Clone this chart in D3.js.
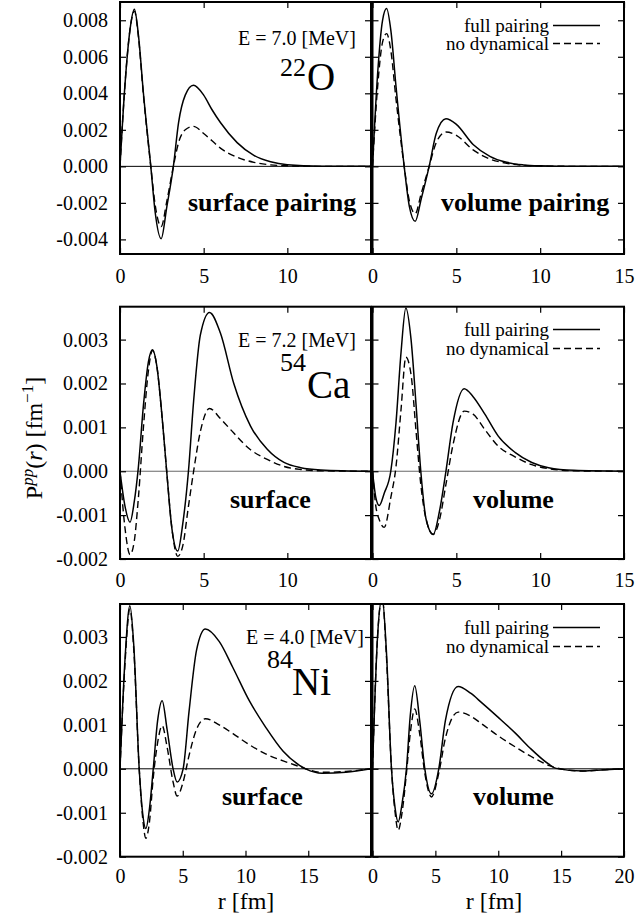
<!DOCTYPE html>
<html><head><meta charset="utf-8">
<script src="https://cdn.jsdelivr.net/npm/d3@7"></script>
<style>
body{margin:0;background:#fff}
svg{display:block}
text{font-family:"Liberation Serif","Tinos","Times New Roman","Nimbus Roman","DejaVu Serif","Noto Serif",serif;fill:#000}
</style>
</head><body>
<svg id="chart" width="636" height="920"></svg>
<script>
// ---------- data ----------
// 22O
const r_O_surf = [0,0.3,0.6,0.86,1.1,1.4,1.84,2.1,2.46,2.8,3.19,3.5,3.9,4.39,5,5.5,6,7,8,9,10,12,15];
const O_surf_full = [0,0.0045,0.0075,0.0086,0.0072,0.0040,0,-0.0025,-0.00396,-0.0022,0,0.0024,0.0039,0.00444,0.0039,0.0031,0.0024,0.0013,0.0006,0.00025,0.00009,0.00001,0];
const O_surf_nodyn = [0,0.0045,0.0075,0.0085,0.0071,0.0039,0,-0.0021,-0.0033,-0.0019,0,0.0013,0.0020,0.00219,0.0018,0.0014,0.0010,0.0005,0.00022,0.00008,0.00003,0,0];
const r_O_vol = [0,0.3,0.6,0.84,1.1,1.4,1.89,2.2,2.55,2.9,3.38,3.8,4.38,5,6,7,8,9,10,12,15];
const O_vol_full = [0,0.0050,0.0080,0.00864,0.0074,0.0044,0,-0.0022,-0.00301,-0.0018,0,0.0018,0.00261,0.0023,0.0012,0.00055,0.00022,0.00008,0.00003,0,0];
const O_vol_nodyn = [0,0.0043,0.0068,0.00727,0.0063,0.0037,0,-0.0019,-0.00259,-0.0015,0,0.0013,0.00188,0.0017,0.0009,0.0004,0.00017,0.00006,0.00002,0,0];
// 54Ca
const r_Ca_surf = [0,0.3,0.6,0.85,1.1,1.4,1.7,1.94,2.2,2.5,2.79,3.1,3.45,3.75,4.09,4.4,4.8,5.35,6,6.8,7.8,8.8,9.8,10.8,12,15];
const Ca_surf_full = [0,-0.0008,-0.00116,-0.0007,0.0001,0.0015,0.0025,0.00277,0.0024,0.0013,0,-0.0013,-0.00182,-0.0012,0,0.0016,0.0031,0.00362,0.00315,0.0020,0.00103,0.0005,0.0002,0.00008,0.00003,0];
const Ca_surf_nodyn = [0,-0.0013,-0.0019,-0.0016,-0.0006,0.0010,0.0023,0.00275,0.0024,0.0013,0,-0.0013,-0.00194,-0.0017,-0.0008,0,0.0009,0.00143,0.0012,0.00087,0.00049,0.00027,0.00011,0.00004,0.00001,0];
const r_Ca_vol = [0,0.2,0.4,0.7,1.09,1.4,1.7,1.99,2.3,2.6,2.88,3.2,3.62,4.0,4.38,4.8,5.47,6,6.7,7.5,8.5,9.5,10.5,12,15];
const Ca_vol_full = [0,-0.0006,-0.00078,-0.0005,0,0.0011,0.0027,0.00372,0.0030,0.0015,0,-0.0011,-0.00144,-0.0009,0,0.0011,0.00188,0.0017,0.0013,0.0008,0.00043,0.0002,0.00008,0.00002,0];
const Ca_vol_nodyn = [0,-0.0008,-0.0011,-0.00128,-0.0006,0.0001,0.0014,0.0026,0.0022,0.0009,-0.0003,-0.0011,-0.00144,-0.0011,-0.0003,0.0006,0.00137,0.0013,0.00095,0.00057,0.00033,0.00015,0.00006,0.00001,0];
// 84Ni
const r_Ni_surf = [0,0.4,0.79,1.1,1.53,1.8,2.06,2.35,2.65,3.0,3.36,3.75,4.23,4.55,5.03,5.5,6.1,6.8,7.9,9,10.3,11.6,13,14.3,14.8,16.1,18,20];
const Ni_surf_full = [0,0.0025,0.00371,0.0028,0,-0.001,-0.00136,-0.0009,0,0.0011,0.00155,0.0009,0,-0.0003,0,0.0013,0.0027,0.00318,0.0029,0.0023,0.00155,0.00095,0.0004,0.00008,0,-0.0001,-0.00008,0];
const Ni_surf_nodyn = [0,0.0024,0.00364,0.0027,0,-0.0011,-0.00158,-0.0012,-0.0002,0.0006,0.00098,0.0005,-0.0003,-0.00062,-0.0003,0.0003,0.0009,0.00114,0.001,0.0008,0.00055,0.00034,0.00018,0.00005,0,-0.00008,-0.00006,0];
const r_Ni_vol = [0,0.4,0.77,1.1,1.51,1.8,2.04,2.35,2.7,3.0,3.36,3.75,4.16,4.69,5.27,5.8,6.81,7.8,8.7,10,11.4,12.5,14,14.6,16.7,18.5,20];
const Ni_vol_full = [0,0.003,0.0039,0.0027,0,-0.0009,-0.00121,-0.0008,0,0.0012,0.00189,0.0011,0,-0.00057,0,0.0011,0.00187,0.00172,0.0015,0.00117,0.0008,0.00048,0.00011,0.00001,-0.00005,-0.00002,0];
const Ni_vol_nodyn = [0,0.003,0.0039,0.0026,0,-0.001,-0.0014,-0.001,-0.0001,0.0008,0.00136,0.0008,-0.0001,-0.00064,-0.0001,0.0007,0.00129,0.0012,0.00102,0.00075,0.00049,0.0003,0.00008,0.00002,-0.00005,-0.00002,0];

// ticks and labels
const yTicksO = [-0.004,-0.002,0,0.002,0.004,0.006,0.008];
const yTicksCaNi = [-0.002,-0.001,0,0.001,0.002,0.003];
const xTicks15 = [0,5,10,15];
const xTicks20 = [0,5,10,15,20];
const energies = ["E = 7.0 [MeV]","E = 7.2 [MeV]","E = 4.0 [MeV]"];
const massNumbers = ["22","54","84"];
const elements = ["O","Ca","Ni"];
const pairingLabels = [["surface pairing","volume pairing"],["surface","volume"],["surface","volume"]];
const legendLabels = ["full pairing","no dynamical"];
const xTitle = "r [fm]";

// ---------- layout ----------
const FONT = '"Liberation Serif","Tinos","Times New Roman","Nimbus Roman","DejaVu Serif","Noto Serif",serif';
const svg = d3.select("#chart");
const colX = [[120,371],[372.5,624]];
const rows = [
  {top:2, bottom:254, ydom:[-0.0048,0.009], yticks:yTicksO, xticks:xTicks15, zero:"#000", pad:15,
   panels:[[r_O_surf,O_surf_full,O_surf_nodyn],[r_O_vol,O_vol_full,O_vol_nodyn]],
   E:[238,45], A:[280,76], El:[307,90], lab:[[188,211],[441,211]], leg:[32,50]},
  {top:306.7, bottom:559, ydom:[-0.002,0.00375], yticks:yTicksCaNi, xticks:xTicks15, zero:"#666", pad:14,
   panels:[[r_Ca_surf,Ca_surf_full,Ca_surf_nodyn],[r_Ca_vol,Ca_vol_full,Ca_vol_nodyn]],
   E:[238,346.5], A:[280,370.5], El:[307,398], lab:[[230,508],[473,508]], leg:[336,355]},
  {top:604, bottom:856.7, ydom:[-0.002,0.00375], yticks:yTicksCaNi, xticks:xTicks20, zero:"#000", pad:12,
   panels:[[r_Ni_surf,Ni_surf_full,Ni_surf_nodyn],[r_Ni_vol,Ni_vol_full,Ni_vol_nodyn]],
   E:[246,644], A:[267,668], El:[292,695], lab:[[222,805],[473,805]], leg:[634,653]}
];
const fmtY = d => (d < 0 ? "-" : "") + Math.abs(d).toFixed(3);

rows.forEach((row, ri) => {
  const y = d3.scaleLinear().domain(row.ydom).range([row.bottom, row.top]);
  const xmax = row.xticks[row.xticks.length-1];
  row.panels.forEach((p, ci) => {
    const x = d3.scaleLinear().domain([0, xmax]).range(colX[ci]);
    const g = svg.append("g");
    const cid = "clip"+ri+"_"+ci;
    svg.append("clipPath").attr("id", cid).append("rect")
      .attr("x", colX[ci][0]).attr("y", row.top)
      .attr("width", colX[ci][1]-colX[ci][0]).attr("height", row.bottom-row.top);
    g.append("line").attr("x1", x(0)).attr("x2", x(xmax)).attr("y1", y(0)).attr("y2", y(0))
      .attr("stroke", row.zero).attr("stroke-width", 1);
    const line = d3.line().x(d => x(d[0])).y(d => y(d[1])).curve(d3.curveMonotoneX);
    const [rr, full, nodyn] = p;
    g.append("path").attr("clip-path", `url(#${cid})`)
      .attr("d", line(rr.map((r,i)=>[r, nodyn[i]])))
      .attr("fill","none").attr("stroke","#000").attr("stroke-width",1.4).attr("stroke-dasharray","7,4");
    g.append("path").attr("clip-path", `url(#${cid})`)
      .attr("d", line(rr.map((r,i)=>[r, full[i]])))
      .attr("fill","none").attr("stroke","#000").attr("stroke-width",1.5);
    const left = d3.axisLeft(y).tickValues(row.yticks).tickSizeInner(-6).tickSizeOuter(0).tickPadding(12)
      .tickFormat(ci === 0 ? fmtY : () => "");
    const right = d3.axisRight(y).tickValues(row.yticks).tickSizeInner(-6).tickSizeOuter(0).tickFormat(() => "");
    const bottom = d3.axisBottom(x).tickValues(row.xticks).tickSizeInner(-6).tickSizeOuter(0).tickPadding(row.pad)
      .tickFormat(d => (ci === 0 && d === xmax) ? "" : d);
    const top = d3.axisTop(x).tickValues(row.xticks).tickSizeInner(-6).tickSizeOuter(0).tickFormat(() => "");
    [[left, `translate(${colX[ci][0]},0)`], [right, `translate(${colX[ci][1]},0)`],
     [bottom, `translate(0,${row.bottom})`], [top, `translate(0,${row.top})`]].forEach(([ax, tr]) => {
      const a = g.append("g").attr("transform", tr).call(ax).attr("font-family", FONT);
      a.select(".domain").remove();
      a.selectAll("line").attr("stroke","#000").attr("stroke-width",1.2);
      a.selectAll("text").attr("font-size", 20).attr("fill","#000");
    });
    g.append("rect").attr("x", colX[ci][0]).attr("y", row.top)
      .attr("width", colX[ci][1]-colX[ci][0]).attr("height", row.bottom-row.top)
      .attr("fill","none").attr("stroke","#000").attr("stroke-width",2);
    g.append("text").attr("x", row.lab[ci][0]).attr("y", row.lab[ci][1])
      .attr("font-size", 26).attr("font-weight","bold").text(pairingLabels[ri][ci]);
  });
  svg.append("text").attr("x", row.E[0]).attr("y", row.E[1]).attr("font-size", 20).text(energies[ri]);
  svg.append("text").attr("x", row.A[0]).attr("y", row.A[1]).attr("font-size", 26).text(massNumbers[ri]);
  svg.append("text").attr("x", row.El[0]).attr("y", row.El[1]).attr("font-size", 39).text(elements[ri]);
  legendLabels.forEach((lbl, li) => {
    const by = row.leg[li];
    svg.append("text").attr("x", 549).attr("y", by).attr("text-anchor","end").attr("font-size", 19).text(lbl);
    svg.append("line").attr("x1", 553).attr("x2", 600).attr("y1", by-6.5).attr("y2", by-6.5)
      .attr("stroke","#000").attr("stroke-width",1.4).attr("stroke-dasharray", li ? "7,4" : null);
  });
});

[246, 494].forEach(cx => {
  svg.append("text").attr("x", cx).attr("y", 909).attr("text-anchor","middle").attr("font-size", 24).text(xTitle);
});
const yt = svg.append("text").attr("transform","translate(42,438) rotate(-90)")
  .attr("text-anchor","middle").attr("font-size", 24);
yt.append("tspan").text("P");
yt.append("tspan").attr("font-style","italic").attr("font-size",17).attr("baseline-shift","9").text("pp");
yt.append("tspan").text("(");
yt.append("tspan").attr("font-style","italic").text("r");
yt.append("tspan").text(") [fm");
yt.append("tspan").attr("font-size",17).attr("baseline-shift","9").text("\u22121");
yt.append("tspan").text("]");
</script>
</body></html>
